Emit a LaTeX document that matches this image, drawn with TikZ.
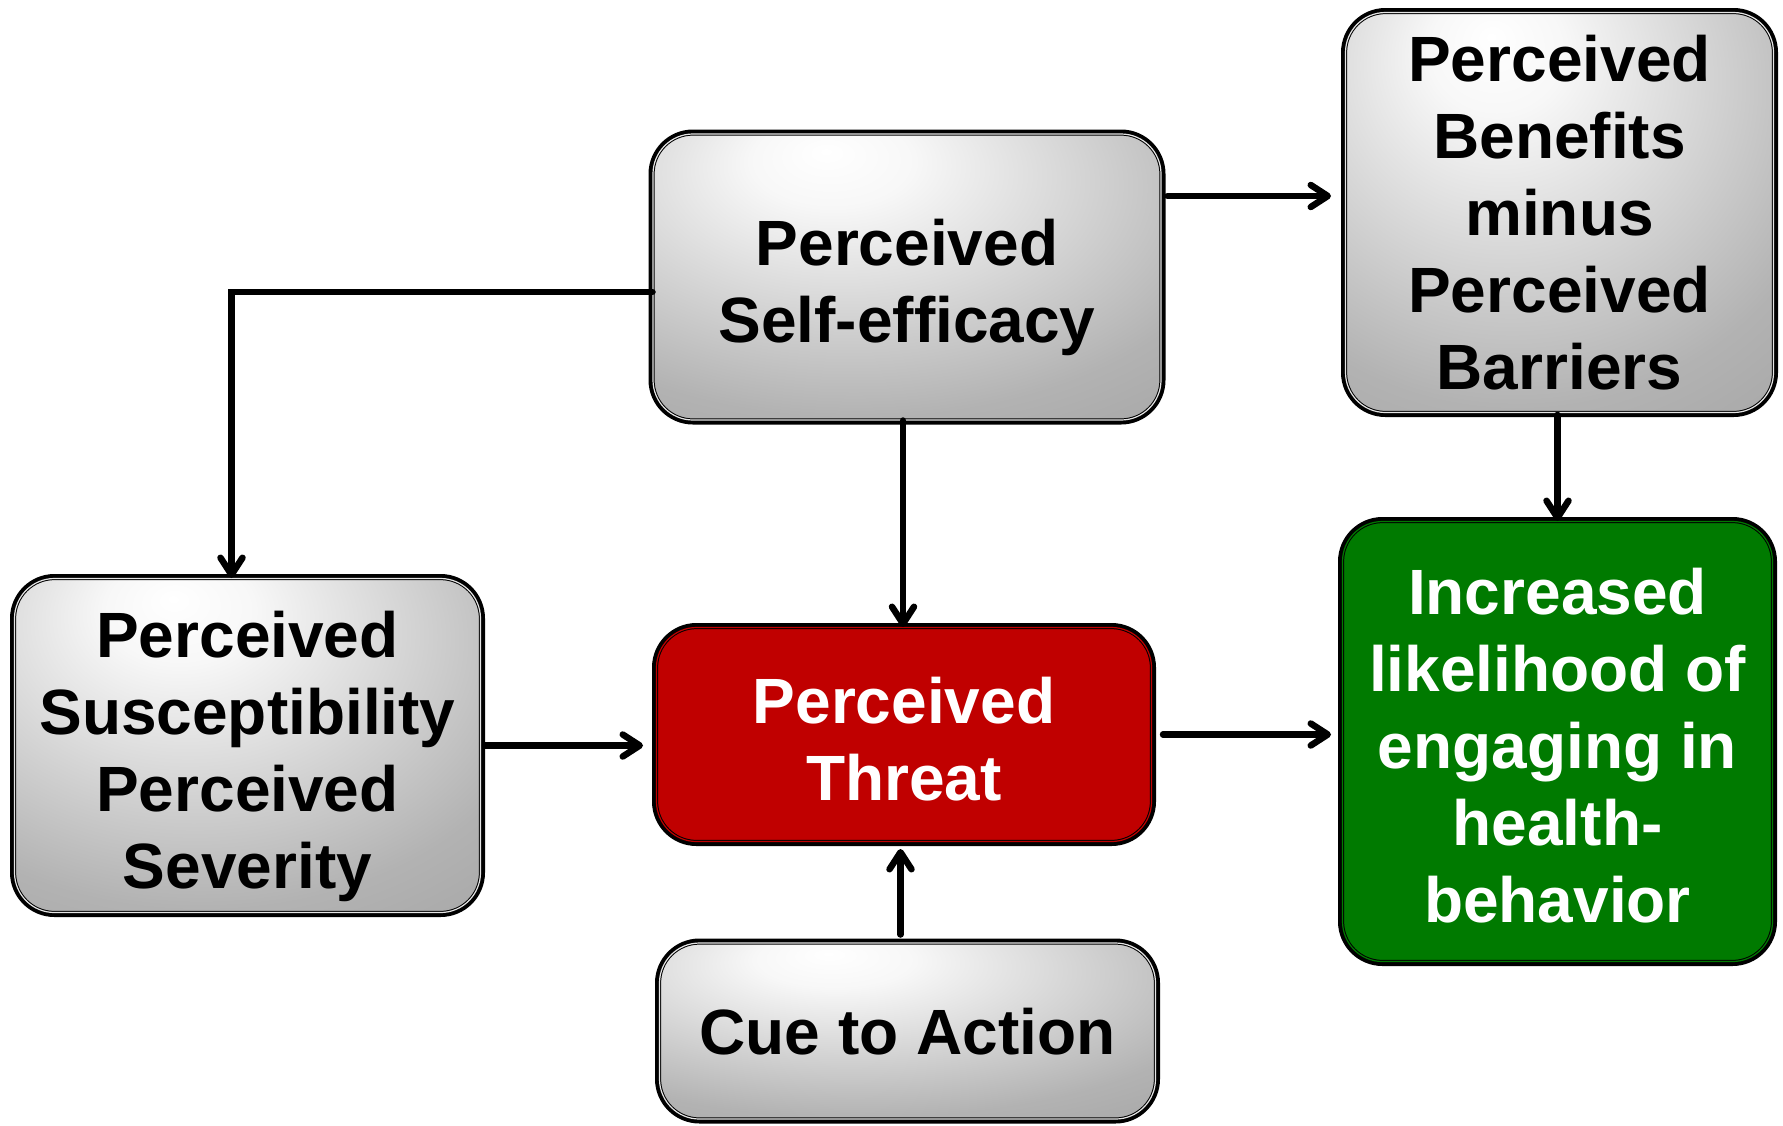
\documentclass[tikz,border=0pt]{standalone}
\usepackage{fontspec}
\setmainfont{Liberation Sans}[Ligatures=CommonOff]
\usetikzlibrary{arrows.meta,calc}

\definecolor{tred}{RGB}{192,0,0}
\definecolor{tgreen}{RGB}{0,122,0}

% off-centre glossy grey fill for the neutral boxes
\pgfdeclareradialshading{glossgray}{\pgfpoint{-8bp}{22bp}}{%
  color(0bp)=(white);
  color(8bp)=(white!97!black);
  color(38bp)=(white!70!black);
  color(62bp)=(white!60!black);
  color(100bp)=(white!60!black)}

% taller first line, so the block of text sits a little lower in its box
\newcommand{\toprule}{\rule{0pt}{54pt}}

\tikzset{
  card/.style={rectangle, rounded corners=40pt, inner sep=0pt, align=center,
    font=\bfseries\fontsize{64}{77}\selectfont, text depth=0pt,
    preaction={draw=black, line width=9pt},
    draw=black, line width=1pt, double distance=1.2pt},
  graycard/.style={card, shading=glossgray, double=white!90!black, text=black},
  redcard/.style={card, fill=tred, double=tred, text=white},
  greencard/.style={card, fill=tgreen, double=tgreen, text=white},
  arr/.style={draw=black, line width=6.5pt, line cap=round,
    -{Straight Barb[length=17pt, width=22pt, line cap=round, line join=round]}}
}

\begin{document}
\begin{tikzpicture}[x=1pt, y=-1pt]
\useasboundingbox (0,0) rectangle (1783,1125);

\node[graycard, minimum width=508pt, minimum height=286pt] (SE) at (907,277)
  {\toprule Perceived\\Self-efficacy};
\node[graycard, minimum width=428pt, minimum height=400pt] (BEN) at (1559.5,212.5)
  {Perceived\\Benefits\\minus\\Perceived\\Barriers};
\node[graycard, minimum width=466pt, minimum height=334pt] (SUS) at (247.5,745.5)
  {\toprule Perceived\\Susceptibility\\Perceived\\Severity};
\node[redcard, minimum width=495pt, minimum height=214pt] (THR) at (904,734.5)
  {\toprule Perceived\\Threat};
\node[graycard, minimum width=496pt, minimum height=176pt] (CUE) at (907.5,1031)
  {Cue to Action};
\node[greencard, minimum width=430pt, minimum height=440pt] (GRN) at (1557.5,741.5)
  {\toprule Increased\\likelihood of\\engaging in\\health-\\behavior};

% connectors
\coordinate (seR) at ([yshift=81pt]SE.east);
\draw[arr, shorten <=6pt, shorten >=14pt] (seR) -- (seR -| BEN.west);

\coordinate (seL) at ([yshift=-15pt]SE.west);
\draw[arr] (seL) -| ([xshift=-16pt]SUS.north);

\coordinate (seB) at ([xshift=-4pt]SE.south);
\draw[arr] (seB) -- (seB |- THR.north);

\draw[arr, shorten <=4pt, shorten >=13pt] (SUS.east) -- (SUS.east -| THR.west);

\draw[arr, shorten <=11pt, shorten >=11pt] (THR.east) -- (THR.east -| GRN.west);

\coordinate (cueT) at ([xshift=-7pt]CUE.north);
\draw[arr, shorten <=8pt, shorten >=7pt] (cueT) -- (cueT |- THR.south);

\coordinate (benB) at ([xshift=-2pt]BEN.south);
\draw[arr, shorten <=2pt] (benB) -- (benB |- GRN.north);
\end{tikzpicture}
\end{document}
